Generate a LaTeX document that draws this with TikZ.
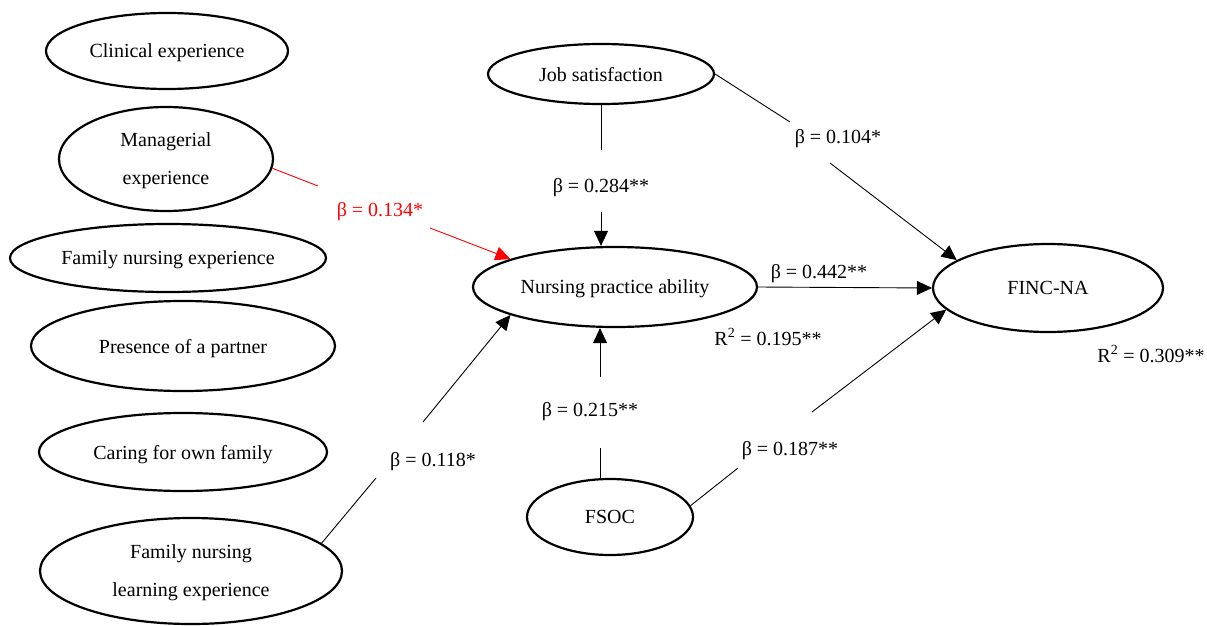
\documentclass[tikz,border=0pt]{standalone}
\usepackage{fontspec}
\setmainfont{Liberation Serif}
\usetikzlibrary{shapes.geometric,arrows.meta}
\begin{document}
\begin{tikzpicture}[x=1pt,y=-1pt,
  ell/.style={ellipse,draw,line width=2.2pt,inner sep=0pt,text depth=0pt,font=\fontsize{20}{38}\selectfont,align=center},
  lbl/.style={font=\fontsize{20}{24}\selectfont,inner sep=1pt},
  conn/.style={line width=0.9pt},
  arr/.style={conn,-{Triangle[length=15pt,width=14pt]}},
]
\useasboundingbox (0,0) rectangle (1207,626);

% left column
\node[ell,minimum width=242,minimum height=76] (clin) at (167,51) {Clinical experience};
\node[ell,minimum width=214,minimum height=104] (mgr) at (166,159) {Managerial\\experience};
\node[ell,minimum width=316,minimum height=68] (fne) at (168,258) {Family nursing experience};
\node[ell,minimum width=304,minimum height=90] (pre) at (183,346) {Presence of a partner};
\node[ell,minimum width=288,minimum height=78] (car) at (183,452) {Caring for own family};
\node[ell,minimum width=302,minimum height=106] (fnl) at (191,571) {Family nursing\\learning experience};

% centre and right
\node[ell,minimum width=226,minimum height=60] (js) at (601,74) {Job satisfaction};
\node[ell,minimum width=284,minimum height=80] (npa) at (615,287) {Nursing practice ability};
\node[ell,minimum width=166,minimum height=76] (fsoc) at (610,517) {FSOC};
\node[ell,minimum width=230,minimum height=88] (fin) at (1048,288) {FINC-NA};

% break points
\coordinate (m1) at (318,186);
\coordinate (m2) at (430,228);
\coordinate (j1) at (601,150);
\coordinate (j2) at (601,212);
\coordinate (j3) at (790,122);
\coordinate (j4) at (830,163);
\coordinate (f1) at (600,448);
\coordinate (f2) at (600,377);
\coordinate (g1) at (738,468);
\coordinate (g2) at (812,412);
\coordinate (h1) at (376,478);
\coordinate (h2) at (423,422);

% labels
\node[lbl,red] (lm) at (380,212) {β = 0.134*};
\node[lbl] (lj) at (601,188) {β = 0.284**};
\node[lbl] (ljf) at (838,139) {β = 0.104*};
\node[lbl] (ln) at (819,274) {β = 0.442**};
\node[lbl] (r1) at (768,337) {R\textsuperscript{2} = 0.195**};
\node[lbl] (r2) at (1151,354) {R\textsuperscript{2} = 0.309**};
\node[lbl] (lf) at (590,412) {β = 0.215**};
\node[lbl] (lff) at (790,451) {β = 0.187**};
\node[lbl] (lh) at (433,462) {β = 0.118*};

% connectors
\draw[conn,red] (mgr.-5) -- (m1);
\draw[arr,red] (m2) -- (npa.165);

\draw[conn] (j1 |- js.south) -- (j1);
\draw[arr] (j2) -- (j2 |- npa.north);

\draw[conn] (js.east) -- (j3);
\draw[arr] (j4) -- (fin.163);

\draw[arr] (npa.east) -- (fin.west);

\draw[conn] (f1 |- fsoc.north) -- (f1);
\draw[arr] (f2) -- (f2 |- npa.south);

\draw[conn] (fsoc.8) -- (g1);
\draw[arr] (g2) -- (fin.192);

\draw[conn] (fnl.12) -- (h1);
\draw[arr] (h2) -- (npa.195);
\end{tikzpicture}
\end{document}
